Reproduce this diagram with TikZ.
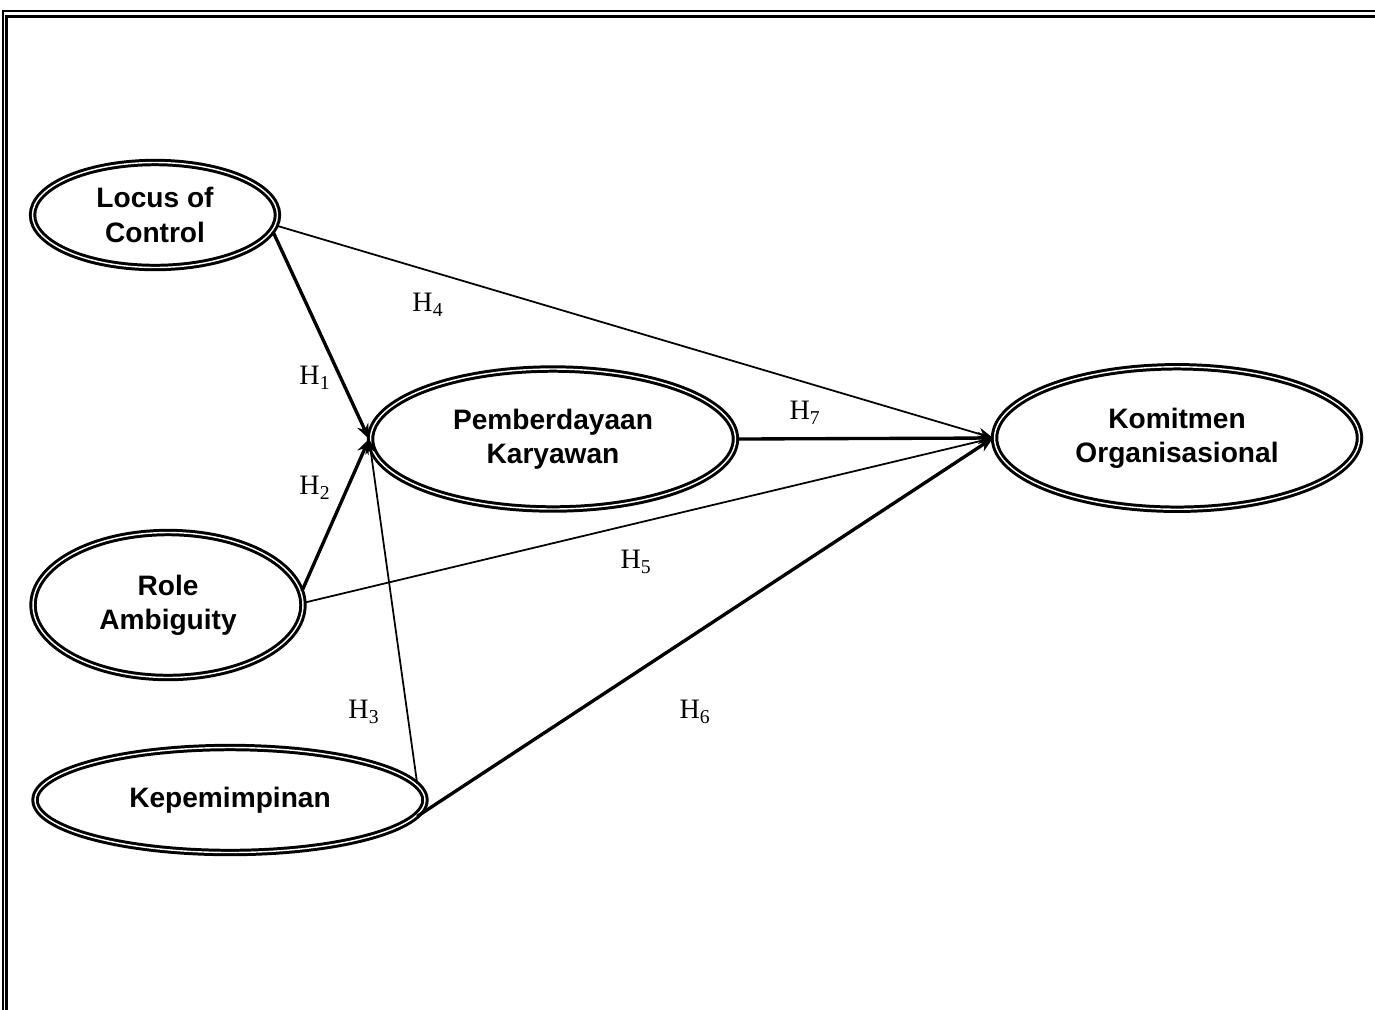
\documentclass[tikz,border=0pt]{standalone}
\usepackage{fontspec}
\setmainfont{Liberation Serif}
\setsansfont{Liberation Sans}
\usetikzlibrary{arrows.meta, shapes.geometric}

\begin{document}
\begin{tikzpicture}[
    x=0.02cm, y=-0.02cm,
    >={Stealth[length=3mm, width=2.4mm]},
    latent/.style={draw, ellipse, line width=1.7pt, double=white,
                   double distance=0.8pt, inner sep=0pt, align=center,
                   font=\sffamily\bfseries\fontsize{16}{19.5}\selectfont},
    hyp/.style={font=\fontsize{16}{18}\selectfont},
    strong/.style={->, line width=1.9pt},
    weak/.style={->, line width=1pt},
]
\useasboundingbox (0,0) rectangle (1375,1009);
\clip (0,0) rectangle (1375,1009);
% frame
\draw[line width=0.9pt] (3,11) rectangle (1420,1100);
\draw[line width=2pt] (6.5,16.5) rectangle (1420,1100);

\node[latent, minimum width=4.9cm, minimum height=2.1cm] (loc)  at (155,215) {Locus of\\Control};
\node[latent, minimum width=7.3cm, minimum height=2.8cm] (pem)  at (553,439) {Pemberdayaan\\Karyawan};
\node[latent, minimum width=7.3cm, minimum height=2.85cm] (kom) at (1177,438) {Komitmen\\Organisasional};
\node[latent, minimum width=5.4cm, minimum height=2.9cm] (role) at (168,605) {Role\\Ambiguity};
\node[latent, minimum width=7.8cm, minimum height=2.1cm] (kep)  at (230,800) {Kepemimpinan};

\draw[strong] (loc.-8)  -- (pem.west);
\draw[weak]   (loc.-5)  -- (kom.west);
\draw[strong] (role.6)  -- (pem.west);
\draw[weak]   (role.1)  -- (kom.west);
\draw[weak]   (kep.5)   -- (pem.west);
\draw[strong] (kep.-5)  -- (kom.west);
\draw[strong] (pem.east) -- (kom.west);

% hypothesis labels
\node[hyp] (h1) at (315,378) {H\textsubscript{1}};
\node[hyp] (h2) at (315,488) {H\textsubscript{2}};
\node[hyp] (h3) at (364,712) {H\textsubscript{3}};
\node[hyp] (h4) at (428,305) {H\textsubscript{4}};
\node[hyp] (h5) at (636,562) {H\textsubscript{5}};
\node[hyp] (h6) at (695,712) {H\textsubscript{6}};
\node[hyp] (h7) at (805,413) {H\textsubscript{7}};
\end{tikzpicture}
\end{document}
